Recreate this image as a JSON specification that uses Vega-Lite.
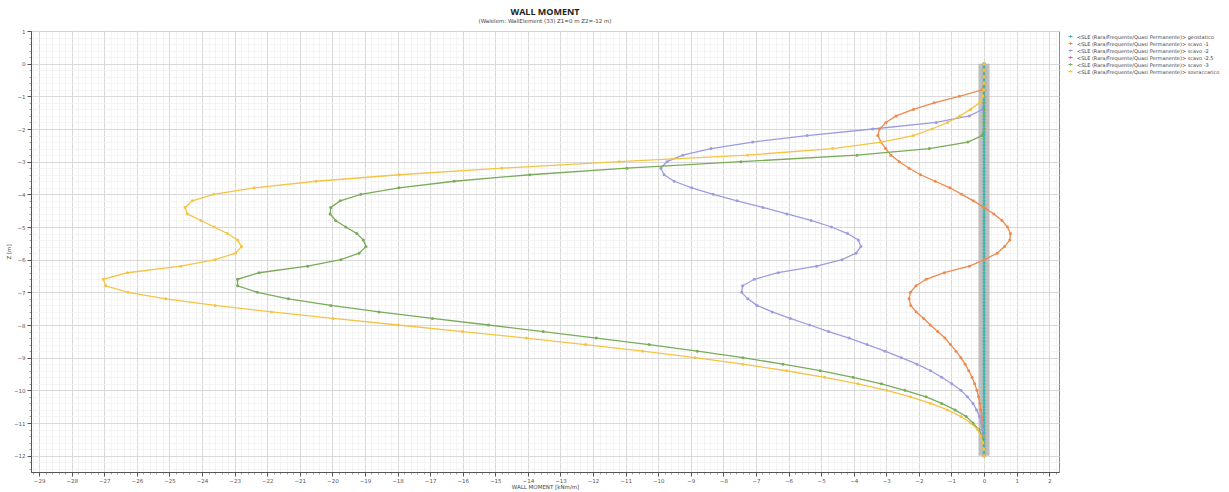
{
  "$schema": "https://vega.github.io/schema/vega-lite/v6.json",
  "width": 1028,
  "height": 441,
  "autosize": {"type": "none"},
  "padding": {"left": 31, "top": 31, "right": 170, "bottom": 20},
  "background": "white",
  "config": {
    "font": "DejaVu Sans",
    "view": {"stroke": "#8a8a8a", "strokeWidth": 1}
  },
  "title": {
    "text": "WALL MOMENT",
    "subtitle": "(Walelem: WallElement (33) Z1=0 m Z2=-12 m)",
    "font": "Open Sans",
    "fontSize": 9,
    "fontWeight": "bold",
    "color": "#222",
    "subtitleFont": "DejaVu Sans",
    "subtitleFontSize": 5.5,
    "subtitleColor": "#444",
    "subtitlePadding": 2,
    "offset": 5,
    "anchor": "middle"
  },
  "datasets": {
    "wall": [{"x": 0, "z1": 0, "z2": -12}],
    "curves": [
      {"s":"geostatico","x":0,"z":0},{"s":"geostatico","x":0,"z":-0.1},{"s":"geostatico","x":0,"z":-0.2},{"s":"geostatico","x":0,"z":-0.3},{"s":"geostatico","x":0,"z":-0.4},{"s":"geostatico","x":0,"z":-0.5},{"s":"geostatico","x":0,"z":-0.6},{"s":"geostatico","x":0,"z":-0.7},{"s":"geostatico","x":0,"z":-0.8},{"s":"geostatico","x":0,"z":-0.9},
      {"s":"geostatico","x":0,"z":-1},{"s":"geostatico","x":0,"z":-1.1},{"s":"geostatico","x":0,"z":-1.2},{"s":"geostatico","x":0,"z":-1.3},{"s":"geostatico","x":0,"z":-1.4},{"s":"geostatico","x":0,"z":-1.5},{"s":"geostatico","x":0,"z":-1.6},{"s":"geostatico","x":0,"z":-1.7},{"s":"geostatico","x":0,"z":-1.8},{"s":"geostatico","x":0,"z":-1.9},
      {"s":"geostatico","x":0,"z":-2},{"s":"geostatico","x":0,"z":-2.1},{"s":"geostatico","x":0,"z":-2.2},{"s":"geostatico","x":0,"z":-2.3},{"s":"geostatico","x":0,"z":-2.4},{"s":"geostatico","x":0,"z":-2.5},{"s":"geostatico","x":0,"z":-2.6},{"s":"geostatico","x":0,"z":-2.7},{"s":"geostatico","x":0,"z":-2.8},{"s":"geostatico","x":0,"z":-2.9},
      {"s":"geostatico","x":0,"z":-3},{"s":"geostatico","x":0,"z":-3.1},{"s":"geostatico","x":0,"z":-3.2},{"s":"geostatico","x":0,"z":-3.3},{"s":"geostatico","x":0,"z":-3.4},{"s":"geostatico","x":0,"z":-3.5},{"s":"geostatico","x":0,"z":-3.6},{"s":"geostatico","x":0,"z":-3.7},{"s":"geostatico","x":0,"z":-3.8},{"s":"geostatico","x":0,"z":-3.9},
      {"s":"geostatico","x":0,"z":-4},{"s":"geostatico","x":0,"z":-4.1},{"s":"geostatico","x":0,"z":-4.2},{"s":"geostatico","x":0,"z":-4.3},{"s":"geostatico","x":0,"z":-4.4},{"s":"geostatico","x":0,"z":-4.5},{"s":"geostatico","x":0,"z":-4.6},{"s":"geostatico","x":0,"z":-4.7},{"s":"geostatico","x":0,"z":-4.8},{"s":"geostatico","x":0,"z":-4.9},
      {"s":"geostatico","x":0,"z":-5},{"s":"geostatico","x":0,"z":-5.1},{"s":"geostatico","x":0,"z":-5.2},{"s":"geostatico","x":0,"z":-5.3},{"s":"geostatico","x":0,"z":-5.4},{"s":"geostatico","x":0,"z":-5.5},{"s":"geostatico","x":0,"z":-5.6},{"s":"geostatico","x":0,"z":-5.7},{"s":"geostatico","x":0,"z":-5.8},{"s":"geostatico","x":0,"z":-5.9},
      {"s":"geostatico","x":0,"z":-6},{"s":"geostatico","x":0,"z":-6.1},{"s":"geostatico","x":0,"z":-6.2},{"s":"geostatico","x":0,"z":-6.3},{"s":"geostatico","x":0,"z":-6.4},{"s":"geostatico","x":0,"z":-6.5},{"s":"geostatico","x":0,"z":-6.6},{"s":"geostatico","x":0,"z":-6.7},{"s":"geostatico","x":0,"z":-6.8},{"s":"geostatico","x":0,"z":-6.9},
      {"s":"geostatico","x":0,"z":-7},{"s":"geostatico","x":0,"z":-7.1},{"s":"geostatico","x":0,"z":-7.2},{"s":"geostatico","x":0,"z":-7.3},{"s":"geostatico","x":0,"z":-7.4},{"s":"geostatico","x":0,"z":-7.5},{"s":"geostatico","x":0,"z":-7.6},{"s":"geostatico","x":0,"z":-7.7},{"s":"geostatico","x":0,"z":-7.8},{"s":"geostatico","x":0,"z":-7.9},
      {"s":"geostatico","x":0,"z":-8},{"s":"geostatico","x":0,"z":-8.1},{"s":"geostatico","x":0,"z":-8.2},{"s":"geostatico","x":0,"z":-8.3},{"s":"geostatico","x":0,"z":-8.4},{"s":"geostatico","x":0,"z":-8.5},{"s":"geostatico","x":0,"z":-8.6},{"s":"geostatico","x":0,"z":-8.7},{"s":"geostatico","x":0,"z":-8.8},{"s":"geostatico","x":0,"z":-8.9},
      {"s":"geostatico","x":0,"z":-9},{"s":"geostatico","x":0,"z":-9.1},{"s":"geostatico","x":0,"z":-9.2},{"s":"geostatico","x":0,"z":-9.3},{"s":"geostatico","x":0,"z":-9.4},{"s":"geostatico","x":0,"z":-9.5},{"s":"geostatico","x":0,"z":-9.6},{"s":"geostatico","x":0,"z":-9.7},{"s":"geostatico","x":0,"z":-9.8},{"s":"geostatico","x":0,"z":-9.9},
      {"s":"geostatico","x":0,"z":-10},{"s":"geostatico","x":0,"z":-10.1},{"s":"geostatico","x":0,"z":-10.2},{"s":"geostatico","x":0,"z":-10.3},{"s":"geostatico","x":0,"z":-10.4},{"s":"geostatico","x":0,"z":-10.5},{"s":"geostatico","x":0,"z":-10.6},{"s":"geostatico","x":0,"z":-10.7},{"s":"geostatico","x":0,"z":-10.8},{"s":"geostatico","x":0,"z":-10.9},
      {"s":"geostatico","x":0,"z":-11},{"s":"geostatico","x":0,"z":-11.1},{"s":"geostatico","x":0,"z":-11.2},{"s":"geostatico","x":0,"z":-11.3},{"s":"geostatico","x":0,"z":-11.4},{"s":"geostatico","x":0,"z":-11.5},{"s":"geostatico","x":0,"z":-11.6},{"s":"geostatico","x":0,"z":-11.7},{"s":"geostatico","x":0,"z":-11.8},{"s":"geostatico","x":0,"z":-11.9},
      {"s":"geostatico","x":0,"z":-12},

      {"s":"scavo -1","x":0,"z":0},{"s":"scavo -1","x":0,"z":-0.2},{"s":"scavo -1","x":0,"z":-0.4},{"s":"scavo -1","x":0,"z":-0.6},{"s":"scavo -1","x":-0.06,"z":-0.8},
      {"s":"scavo -1","x":-0.76,"z":-1},{"s":"scavo -1","x":-1.53,"z":-1.2},{"s":"scavo -1","x":-2.17,"z":-1.4},{"s":"scavo -1","x":-2.7,"z":-1.6},{"s":"scavo -1","x":-3.01,"z":-1.8},
      {"s":"scavo -1","x":-3.21,"z":-2},{"s":"scavo -1","x":-3.26,"z":-2.2},{"s":"scavo -1","x":-3.16,"z":-2.4},{"s":"scavo -1","x":-3.02,"z":-2.6},{"s":"scavo -1","x":-2.86,"z":-2.8},
      {"s":"scavo -1","x":-2.6,"z":-3},{"s":"scavo -1","x":-2.3,"z":-3.2},{"s":"scavo -1","x":-1.95,"z":-3.4},{"s":"scavo -1","x":-1.5,"z":-3.6},{"s":"scavo -1","x":-1.05,"z":-3.8},
      {"s":"scavo -1","x":-0.68,"z":-4},{"s":"scavo -1","x":-0.33,"z":-4.2},{"s":"scavo -1","x":0,"z":-4.4},{"s":"scavo -1","x":0.3,"z":-4.6},{"s":"scavo -1","x":0.55,"z":-4.8},
      {"s":"scavo -1","x":0.72,"z":-5},{"s":"scavo -1","x":0.81,"z":-5.2},{"s":"scavo -1","x":0.79,"z":-5.4},{"s":"scavo -1","x":0.63,"z":-5.6},{"s":"scavo -1","x":0.4,"z":-5.8},
      {"s":"scavo -1","x":0.02,"z":-6},{"s":"scavo -1","x":-0.45,"z":-6.2},{"s":"scavo -1","x":-1.22,"z":-6.4},{"s":"scavo -1","x":-1.78,"z":-6.6},{"s":"scavo -1","x":-2.09,"z":-6.8},
      {"s":"scavo -1","x":-2.26,"z":-7},{"s":"scavo -1","x":-2.3,"z":-7.2},{"s":"scavo -1","x":-2.25,"z":-7.4},{"s":"scavo -1","x":-2.08,"z":-7.6},{"s":"scavo -1","x":-1.85,"z":-7.8},
      {"s":"scavo -1","x":-1.65,"z":-8},{"s":"scavo -1","x":-1.42,"z":-8.2},{"s":"scavo -1","x":-1.2,"z":-8.4},{"s":"scavo -1","x":-1.03,"z":-8.6},{"s":"scavo -1","x":-0.86,"z":-8.8},
      {"s":"scavo -1","x":-0.71,"z":-9},{"s":"scavo -1","x":-0.58,"z":-9.2},{"s":"scavo -1","x":-0.47,"z":-9.4},{"s":"scavo -1","x":-0.37,"z":-9.6},{"s":"scavo -1","x":-0.29,"z":-9.8},
      {"s":"scavo -1","x":-0.22,"z":-10},{"s":"scavo -1","x":-0.17,"z":-10.2},{"s":"scavo -1","x":-0.13,"z":-10.4},{"s":"scavo -1","x":-0.1,"z":-10.6},{"s":"scavo -1","x":-0.07,"z":-10.8},
      {"s":"scavo -1","x":-0.05,"z":-11},{"s":"scavo -1","x":-0.04,"z":-11.2},{"s":"scavo -1","x":-0.02,"z":-11.4},{"s":"scavo -1","x":-0.01,"z":-11.6},{"s":"scavo -1","x":0,"z":-11.8},{"s":"scavo -1","x":0,"z":-12},

      {"s":"scavo -2","x":0,"z":0},{"s":"scavo -2","x":0,"z":-0.2},{"s":"scavo -2","x":0,"z":-0.4},{"s":"scavo -2","x":0,"z":-0.6},{"s":"scavo -2","x":0,"z":-0.8},
      {"s":"scavo -2","x":0,"z":-1},{"s":"scavo -2","x":0,"z":-1.2},{"s":"scavo -2","x":-0.04,"z":-1.4},{"s":"scavo -2","x":-0.45,"z":-1.6},{"s":"scavo -2","x":-1.47,"z":-1.8},
      {"s":"scavo -2","x":-3.42,"z":-2},{"s":"scavo -2","x":-5.43,"z":-2.2},{"s":"scavo -2","x":-7.1,"z":-2.4},{"s":"scavo -2","x":-8.38,"z":-2.6},{"s":"scavo -2","x":-9.25,"z":-2.8},
      {"s":"scavo -2","x":-9.73,"z":-3},{"s":"scavo -2","x":-9.92,"z":-3.2},{"s":"scavo -2","x":-9.82,"z":-3.4},{"s":"scavo -2","x":-9.51,"z":-3.6},{"s":"scavo -2","x":-8.97,"z":-3.8},
      {"s":"scavo -2","x":-8.31,"z":-4},{"s":"scavo -2","x":-7.58,"z":-4.2},{"s":"scavo -2","x":-6.79,"z":-4.4},{"s":"scavo -2","x":-6.05,"z":-4.6},{"s":"scavo -2","x":-5.31,"z":-4.8},
      {"s":"scavo -2","x":-4.68,"z":-5},{"s":"scavo -2","x":-4.19,"z":-5.2},{"s":"scavo -2","x":-3.86,"z":-5.4},{"s":"scavo -2","x":-3.78,"z":-5.6},{"s":"scavo -2","x":-3.93,"z":-5.8},
      {"s":"scavo -2","x":-4.36,"z":-6},{"s":"scavo -2","x":-5.14,"z":-6.2},{"s":"scavo -2","x":-6.32,"z":-6.4},{"s":"scavo -2","x":-7.05,"z":-6.6},{"s":"scavo -2","x":-7.41,"z":-6.8},
      {"s":"scavo -2","x":-7.44,"z":-7},{"s":"scavo -2","x":-7.25,"z":-7.2},{"s":"scavo -2","x":-6.97,"z":-7.4},{"s":"scavo -2","x":-6.5,"z":-7.6},{"s":"scavo -2","x":-5.95,"z":-7.8},
      {"s":"scavo -2","x":-5.35,"z":-8},{"s":"scavo -2","x":-4.77,"z":-8.2},{"s":"scavo -2","x":-4.14,"z":-8.4},{"s":"scavo -2","x":-3.59,"z":-8.6},{"s":"scavo -2","x":-3.04,"z":-8.8},
      {"s":"scavo -2","x":-2.54,"z":-9},{"s":"scavo -2","x":-2.06,"z":-9.2},{"s":"scavo -2","x":-1.64,"z":-9.4},{"s":"scavo -2","x":-1.3,"z":-9.6},{"s":"scavo -2","x":-0.99,"z":-9.8},
      {"s":"scavo -2","x":-0.71,"z":-10},{"s":"scavo -2","x":-0.51,"z":-10.2},{"s":"scavo -2","x":-0.34,"z":-10.4},{"s":"scavo -2","x":-0.23,"z":-10.6},{"s":"scavo -2","x":-0.14,"z":-10.8},
      {"s":"scavo -2","x":-0.08,"z":-11},{"s":"scavo -2","x":-0.05,"z":-11.2},{"s":"scavo -2","x":-0.03,"z":-11.4},{"s":"scavo -2","x":-0.01,"z":-11.6},{"s":"scavo -2","x":0,"z":-11.8},{"s":"scavo -2","x":0,"z":-12},

      {"s":"scavo -3","x":0,"z":0},{"s":"scavo -3","x":0,"z":-0.2},{"s":"scavo -3","x":0,"z":-0.4},{"s":"scavo -3","x":0,"z":-0.6},{"s":"scavo -3","x":0,"z":-0.8},
      {"s":"scavo -3","x":0,"z":-1},{"s":"scavo -3","x":0,"z":-1.2},{"s":"scavo -3","x":0,"z":-1.4},{"s":"scavo -3","x":0,"z":-1.6},{"s":"scavo -3","x":0,"z":-1.8},
      {"s":"scavo -3","x":0,"z":-2},{"s":"scavo -3","x":-0.06,"z":-2.2},{"s":"scavo -3","x":-0.5,"z":-2.4},{"s":"scavo -3","x":-1.68,"z":-2.6},{"s":"scavo -3","x":-3.9,"z":-2.8},
      {"s":"scavo -3","x":-7.46,"z":-3},{"s":"scavo -3","x":-10.96,"z":-3.2},{"s":"scavo -3","x":-13.94,"z":-3.4},{"s":"scavo -3","x":-16.26,"z":-3.6},{"s":"scavo -3","x":-17.96,"z":-3.8},
      {"s":"scavo -3","x":-19.13,"z":-4},{"s":"scavo -3","x":-19.76,"z":-4.2},{"s":"scavo -3","x":-20.05,"z":-4.4},{"s":"scavo -3","x":-20.07,"z":-4.6},{"s":"scavo -3","x":-19.9,"z":-4.8},
      {"s":"scavo -3","x":-19.59,"z":-5},{"s":"scavo -3","x":-19.25,"z":-5.2},{"s":"scavo -3","x":-19.05,"z":-5.4},{"s":"scavo -3","x":-18.97,"z":-5.6},{"s":"scavo -3","x":-19.18,"z":-5.8},
      {"s":"scavo -3","x":-19.74,"z":-6},{"s":"scavo -3","x":-20.76,"z":-6.2},{"s":"scavo -3","x":-22.25,"z":-6.4},{"s":"scavo -3","x":-22.91,"z":-6.6},{"s":"scavo -3","x":-22.91,"z":-6.8},
      {"s":"scavo -3","x":-22.3,"z":-7},{"s":"scavo -3","x":-21.35,"z":-7.2},{"s":"scavo -3","x":-20.05,"z":-7.4},{"s":"scavo -3","x":-18.57,"z":-7.6},{"s":"scavo -3","x":-16.93,"z":-7.8},
      {"s":"scavo -3","x":-15.21,"z":-8},{"s":"scavo -3","x":-13.53,"z":-8.2},{"s":"scavo -3","x":-11.9,"z":-8.4},{"s":"scavo -3","x":-10.28,"z":-8.6},{"s":"scavo -3","x":-8.8,"z":-8.8},
      {"s":"scavo -3","x":-7.4,"z":-9},{"s":"scavo -3","x":-6.17,"z":-9.2},{"s":"scavo -3","x":-5.03,"z":-9.4},{"s":"scavo -3","x":-4.02,"z":-9.6},{"s":"scavo -3","x":-3.15,"z":-9.8},
      {"s":"scavo -3","x":-2.43,"z":-10},{"s":"scavo -3","x":-1.78,"z":-10.2},{"s":"scavo -3","x":-1.3,"z":-10.4},{"s":"scavo -3","x":-0.89,"z":-10.6},{"s":"scavo -3","x":-0.55,"z":-10.8},
      {"s":"scavo -3","x":-0.34,"z":-11},{"s":"scavo -3","x":-0.16,"z":-11.2},{"s":"scavo -3","x":-0.07,"z":-11.4},{"s":"scavo -3","x":-0.02,"z":-11.6},{"s":"scavo -3","x":0,"z":-11.8},{"s":"scavo -3","x":0,"z":-12},

      {"s":"sovraccarico","x":0,"z":0},{"s":"sovraccarico","x":0,"z":-0.2},{"s":"sovraccarico","x":0,"z":-0.4},{"s":"sovraccarico","x":0,"z":-0.6},{"s":"sovraccarico","x":-0.01,"z":-0.8},
      {"s":"sovraccarico","x":-0.04,"z":-1},{"s":"sovraccarico","x":-0.14,"z":-1.2},{"s":"sovraccarico","x":-0.42,"z":-1.4},{"s":"sovraccarico","x":-0.74,"z":-1.6},{"s":"sovraccarico","x":-1.12,"z":-1.8},
      {"s":"sovraccarico","x":-1.6,"z":-2},{"s":"sovraccarico","x":-2.17,"z":-2.2},{"s":"sovraccarico","x":-3.15,"z":-2.4},{"s":"sovraccarico","x":-4.65,"z":-2.6},{"s":"sovraccarico","x":-7.26,"z":-2.8},
      {"s":"sovraccarico","x":-11.2,"z":-3},{"s":"sovraccarico","x":-14.8,"z":-3.2},{"s":"sovraccarico","x":-17.95,"z":-3.4},{"s":"sovraccarico","x":-20.5,"z":-3.6},{"s":"sovraccarico","x":-22.4,"z":-3.8},
      {"s":"sovraccarico","x":-23.65,"z":-4},{"s":"sovraccarico","x":-24.3,"z":-4.2},{"s":"sovraccarico","x":-24.52,"z":-4.4},{"s":"sovraccarico","x":-24.45,"z":-4.6},{"s":"sovraccarico","x":-24.04,"z":-4.8},
      {"s":"sovraccarico","x":-23.63,"z":-5},{"s":"sovraccarico","x":-23.22,"z":-5.2},{"s":"sovraccarico","x":-22.91,"z":-5.4},{"s":"sovraccarico","x":-22.79,"z":-5.6},{"s":"sovraccarico","x":-22.97,"z":-5.8},
      {"s":"sovraccarico","x":-23.6,"z":-6},{"s":"sovraccarico","x":-24.65,"z":-6.2},{"s":"sovraccarico","x":-26.29,"z":-6.4},{"s":"sovraccarico","x":-27.03,"z":-6.6},{"s":"sovraccarico","x":-26.96,"z":-6.8},
      {"s":"sovraccarico","x":-26.27,"z":-7},{"s":"sovraccarico","x":-25.11,"z":-7.2},{"s":"sovraccarico","x":-23.6,"z":-7.4},{"s":"sovraccarico","x":-21.87,"z":-7.6},{"s":"sovraccarico","x":-19.98,"z":-7.8},
      {"s":"sovraccarico","x":-17.98,"z":-8},{"s":"sovraccarico","x":-16.01,"z":-8.2},{"s":"sovraccarico","x":-14.05,"z":-8.4},{"s":"sovraccarico","x":-12.23,"z":-8.6},{"s":"sovraccarico","x":-10.48,"z":-8.8},
      {"s":"sovraccarico","x":-8.87,"z":-9},{"s":"sovraccarico","x":-7.4,"z":-9.2},{"s":"sovraccarico","x":-6.06,"z":-9.4},{"s":"sovraccarico","x":-4.89,"z":-9.6},{"s":"sovraccarico","x":-3.87,"z":-9.8},
      {"s":"sovraccarico","x":-2.99,"z":-10},{"s":"sovraccarico","x":-2.26,"z":-10.2},{"s":"sovraccarico","x":-1.64,"z":-10.4},{"s":"sovraccarico","x":-1.12,"z":-10.6},{"s":"sovraccarico","x":-0.71,"z":-10.8},
      {"s":"sovraccarico","x":-0.41,"z":-11},{"s":"sovraccarico","x":-0.2,"z":-11.2},{"s":"sovraccarico","x":-0.1,"z":-11.4},{"s":"sovraccarico","x":-0.04,"z":-11.6},{"s":"sovraccarico","x":-0.01,"z":-11.8},{"s":"sovraccarico","x":0,"z":-12}
    ]
  },
  "resolve": {"axis": {"x": "independent", "y": "independent"}},
  "layer": [
    {
      "data": {"name": "wall"},
      "mark": {"type": "rule", "strokeWidth": 11, "color": "#b4b4b4", "opacity": 0.85},
      "encoding": {
        "x": {
          "field": "x", "type": "quantitative",
          "scale": {"domain": [-29.25, 2.3], "nice": false, "zero": false},
          "axis": {"orient": "bottom", "tickCount": 160, "grid": true, "gridColor": "#efefef", "gridWidth": 0.7, "labels": false, "title": null, "domain": false, "ticks": true, "tickSize": 2, "tickColor": "#777", "tickWidth": 0.7}
        },
        "y": {
          "field": "z1", "type": "quantitative",
          "scale": {"domain": [-12.5, 1], "nice": false, "zero": false},
          "axis": {"orient": "left", "tickCount": 67, "grid": true, "gridColor": "#efefef", "gridWidth": 0.7, "labels": false, "title": null, "domain": false, "ticks": true, "tickSize": 2, "tickColor": "#777", "tickWidth": 0.7}
        },
        "y2": {"field": "z2"}
      }
    },
    {
      "data": {"name": "curves"},
      "mark": {"type": "line", "strokeWidth": 1.3, "point": {"size": 9, "filled": true}},
      "encoding": {
        "x": {
          "field": "x", "type": "quantitative",
          "scale": {"domain": [-29.25, 2.3], "nice": false, "zero": false},
          "axis": {"orient": "bottom", "tickCount": 31, "grid": true, "gridColor": "#d2d2d2", "gridWidth": 0.8, "domainColor": "#555", "tickColor": "#555", "tickSize": 4, "labelFontSize": 5.5, "labelColor": "#555", "labelPadding": 2, "title": "WALL MOMENT [kNm/m]", "titleFontSize": 5.5, "titleFontWeight": "normal", "titleColor": "#444", "titlePadding": 1}
        },
        "y": {
          "field": "z", "type": "quantitative",
          "scale": {"domain": [-12.5, 1], "nice": false, "zero": false},
          "axis": {"orient": "left", "tickCount": 13, "grid": true, "gridColor": "#d2d2d2", "gridWidth": 0.8, "domainColor": "#555", "tickColor": "#555", "tickSize": 4, "labelFontSize": 5.5, "labelColor": "#555", "labelPadding": 2, "title": "Z [m]", "titleFontSize": 5.5, "titleFontWeight": "normal", "titleColor": "#444", "titlePadding": 2}
        },
        "color": {
          "field": "s", "type": "nominal",
          "scale": {
            "domain": ["geostatico", "scavo -1", "scavo -2", "scavo -2.5", "scavo -3", "sovraccarico"],
            "range": ["#3db7b0", "#ee8a4e", "#9c9ce0", "#d45fd0", "#7aab5a", "#f5c445"]
          },
          "legend": {
            "orient": "none", "legendX": 1037, "legendY": 3, "title": null,
            "labelExpr": "'<SLE (Rara/Frequente/Quasi Permanente)> ' + datum.label",
            "labelFontSize": 5, "labelColor": "#444", "labelLimit": 300,
            "symbolType": "M-1,0L1,0M0,-0.45L0.45,0L0,0.45L-0.45,0Z",
            "symbolSize": 16, "symbolStrokeWidth": 1, "rowPadding": 0, "labelOffset": 4
          }
        },
        "order": {"field": "z", "type": "quantitative", "sort": "descending"}
      }
    }
  ]
}
